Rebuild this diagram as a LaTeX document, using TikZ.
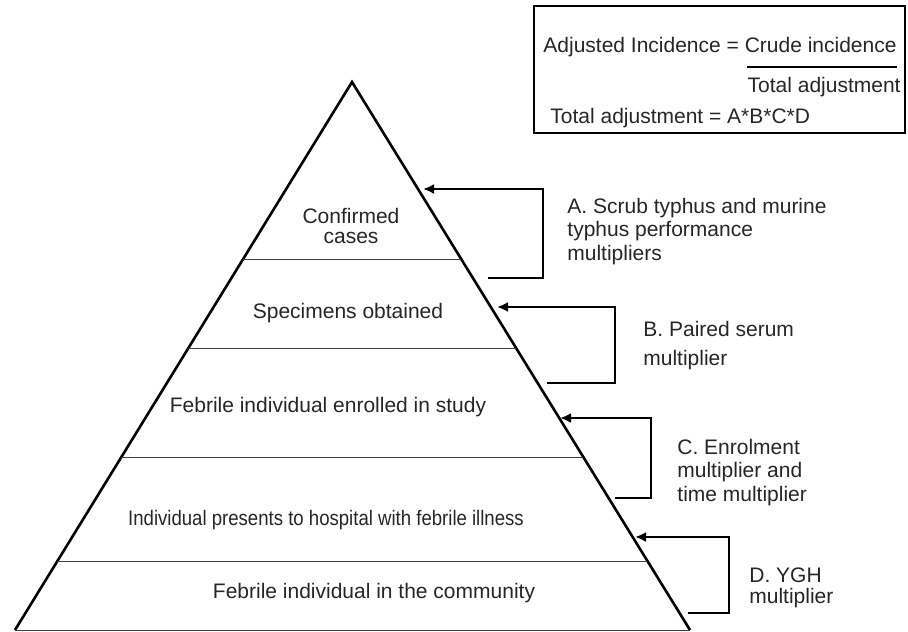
\documentclass[tikz,border=0pt]{standalone}
\usepackage{fontspec}
\setmainfont{Liberation Sans}
\usetikzlibrary{calc,arrows.meta}
\tikzset{
  txt/.style={inner sep=0pt,anchor=base,text=black!85,font=\fontsize{10.5}{11.75}\selectfont},
  lbl/.style={txt,anchor=base west,align=left},
  side/.style={draw,line width=1.3pt,line join=miter},
  tier/.style={draw=black!75,line width=0.5pt},
  bracket/.style={-{Latex[length=5.5pt,width=5pt]},line width=1.4pt},
  frame/.style={draw,line width=0.6pt},
  bar/.style={draw,line width=1.3pt}
}
\begin{document}
\begin{tikzpicture}[x=0.5pt,y=-0.5pt]
\useasboundingbox (0,0) rectangle (908,631);
% pyramid
\coordinate (apex) at (352,82);
\coordinate (bl) at (15,630);
\coordinate (br) at (690,630);
\draw[side] (bl) -- (apex) -- (br);
\draw[tier] (bl) -- (br);
\foreach \t in {0.323,0.4854,0.6843,0.8741}
  \draw[tier] ($(apex)!\t!(bl)$) -- ($(apex)!\t!(br)$);
% tiers (base = last line)
\node[txt,align=center] (confirmed) at (351,243) {Confirmed\\[-1.75pt]cases};
\node[txt] (specimens) at (348,318) {Specimens obtained};
\node[txt] (enrolled) at (328,412) {Febrile individual enrolled in study};
\node[txt] (presents) at (326,525) {\scalebox{0.885}[1]{Individual presents to hospital with febrile illness}};
\node[txt] (community) at (374,598) {Febrile individual in the community};
% multipliers
\coordinate (tipA) at (423,189); \coordinate (endA) at (488,278);
\coordinate (tipB) at (497,307); \coordinate (endB) at (547,383);
\coordinate (tipC) at (560,418); \coordinate (endC) at (615,498);
\coordinate (tipD) at (635,537); \coordinate (endD) at (688,613);
\draw[bracket] (endA) -- ++(55,0) |- (tipA);
\draw[bracket] (endB) -- ++(68,0) |- (tipB);
\draw[bracket] (endC) -- ++(36,0) |- (tipC);
\draw[bracket] (endD) -- ++(41,0) |- (tipD);
\node[lbl] (labA) at (567,260) {A. Scrub typhus and murine\\typhus performance\\multipliers};
\node[lbl] (labB) at (643,365) {B. Paired serum\\[2.75pt]multiplier};
\node[lbl] (labC) at (677,501) {C. Enrolment\\multiplier and\\time multiplier};
\node[lbl] (labD) at (749,603) {D. YGH\\[-1.25pt]multiplier};
% formula box
\draw[frame] (534,6) rectangle (905,133);
\node[lbl] (adjusted) at (543,53) {Adjusted Incidence = Crude incidence};
\draw[bar] (747,67) -- (897,67);
\node[txt,anchor=base east] (totaldiv) at (901,92) {Total adjustment};
\node[lbl] (total) at (550,123) {Total adjustment = A*B*C*D};
\end{tikzpicture}
\end{document}
